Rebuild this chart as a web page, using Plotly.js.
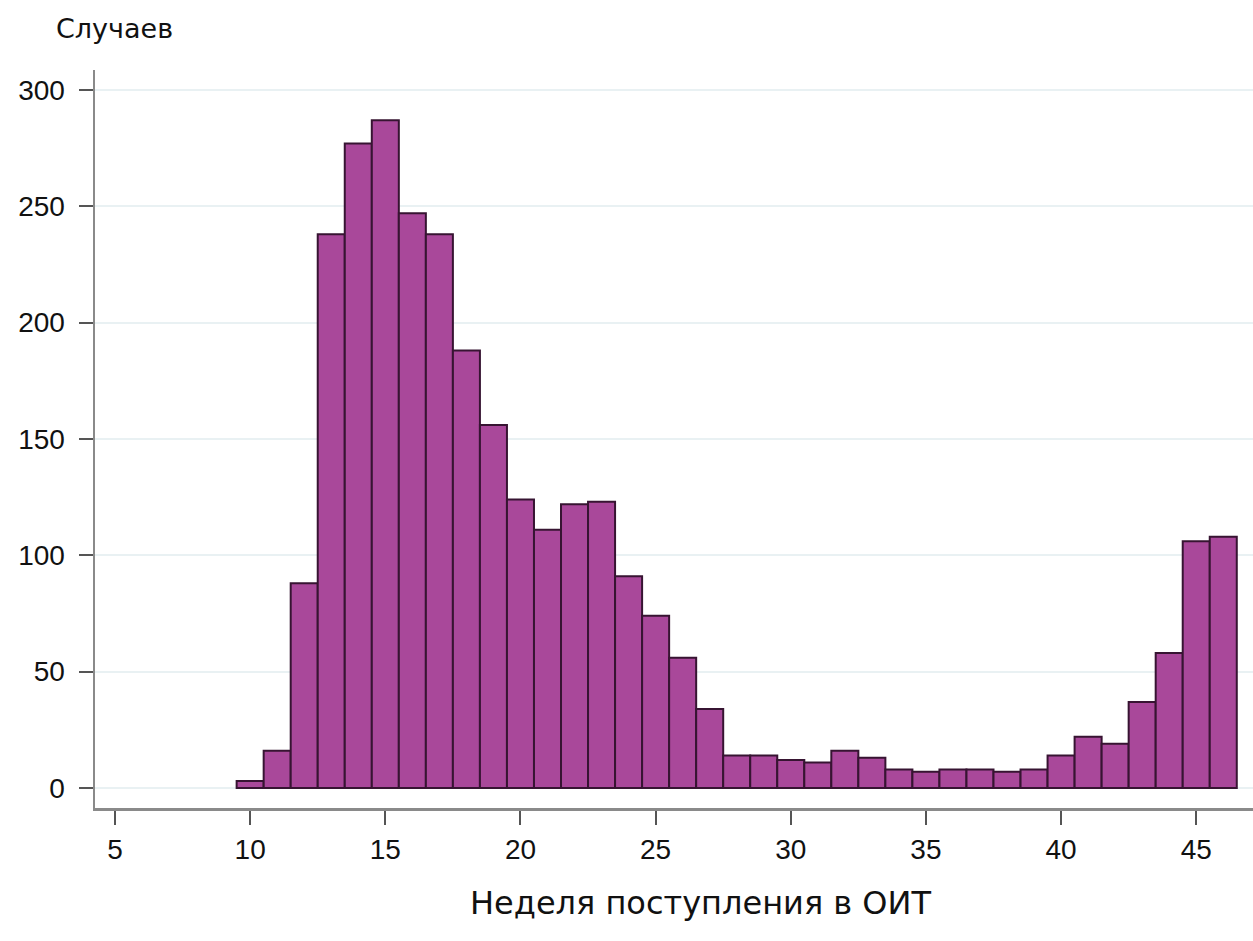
<!DOCTYPE html>
<html>
<head>
<meta charset="utf-8">
<script src="https://cdn.plot.ly/plotly-3.0.1.min.js"></script>
<style>html,body{margin:0;padding:0;background:#fff;}#chart{width:1253px;height:941px;}</style>
</head>
<body>
<div id="chart"></div>
<script>
var weeks = [10,11,12,13,14,15,16,17,18,19,20,21,22,23,24,25,26,27,28,29,30,31,32,33,34,35,36,37,38,39,40,41,42,43,44,45,46];
var cases = [3,16,88,238,277,287,247,238,188,156,124,111,122,123,91,74,56,34,14,14,12,11,16,13,8,7,8,8,7,8,14,22,19,37,58,106,108];
var xTicks = [5,10,15,20,25,30,35,40,45];
var yTicks = [0,50,100,150,200,250,300];
var yTitle = 'Случаев';
var xTitle = 'Неделя поступления в ОИТ';

var trace = {
  type: 'bar',
  x: weeks,
  y: cases,
  width: 1,
  marker: {color: '#a9489a', line: {color: '#371432', width: 2}},
  hoverinfo: 'x+y'
};

var layout = {
  width: 1253, height: 941,
  margin: {l: 95, r: 0, t: 70, b: 133},
  paper_bgcolor: '#ffffff',
  plot_bgcolor: '#ffffff',
  showlegend: false,
  bargap: 0,
  xaxis: {
    range: [4.26, 47.1],
    tickvals: xTicks,
    ticktext: xTicks.map(String),
    ticks: 'outside', ticklen: 14, tickwidth: 2, tickcolor: '#555555',
    showline: true, linecolor: '#8a8a8a', linewidth: 2.5,
    showgrid: false, zeroline: false,
    tickfont: {family: 'Liberation Sans, Arial, sans-serif', size: 28, color: '#111111'},
    ticklabelstandoff: 1
  },
  yaxis: {
    range: [-8.6, 308.6],
    tickvals: yTicks,
    ticktext: yTicks.map(String),
    ticks: 'outside', ticklen: 14, tickwidth: 2, tickcolor: '#555555',
    showline: true, linecolor: '#8a8a8a', linewidth: 2.5,
    showgrid: true, gridcolor: '#e9f1f3', gridwidth: 2,
    zeroline: false,
    tickfont: {family: 'Liberation Sans, Arial, sans-serif', size: 28, color: '#111111'},
    ticklabelstandoff: 8
  },
  annotations: [
    {text: yTitle, xref: 'paper', yref: 'paper', x: -0.035, y: 1 + 42/738,
     xanchor: 'left', yanchor: 'middle', showarrow: false,
     font: {family: 'DejaVu Sans, Tahoma, sans-serif', size: 27, color: '#111111'}},
    {text: xTitle, xref: 'paper', yref: 'paper', x: (700-95)/1158, y: -95/738,
     xanchor: 'center', yanchor: 'middle', showarrow: false,
     font: {family: 'DejaVu Sans, Tahoma, sans-serif', size: 32, color: '#111111'}}
  ]
};

Plotly.newPlot('chart', [trace], layout, {displayModeBar: false, staticPlot: true});
</script>
</body>
</html>
